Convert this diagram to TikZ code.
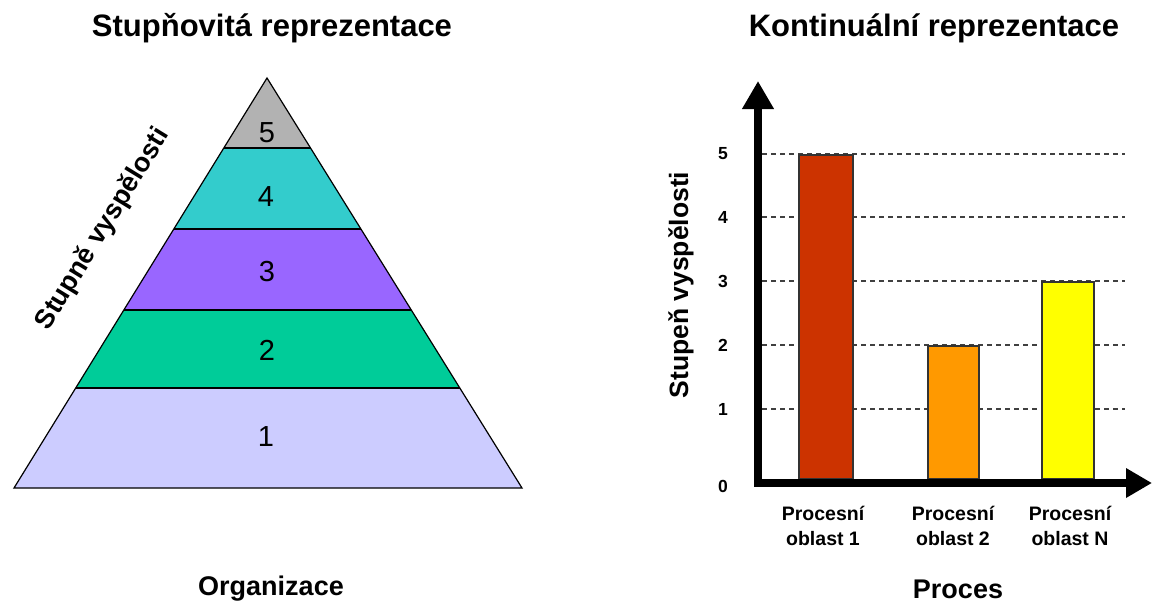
\documentclass[tikz,border=0pt]{standalone}
\usepackage{fontspec}
\setmainfont{Liberation Sans}
\usetikzlibrary{arrows.meta}
\definecolor{lvlfive}{HTML}{B2B2B2}
\definecolor{lvlfour}{HTML}{33CCCC}
\definecolor{lvlthree}{HTML}{9966FF}
\definecolor{lvltwo}{HTML}{00CC99}
\definecolor{lvlone}{HTML}{CCCCFF}
\definecolor{barone}{HTML}{CC3300}
\definecolor{bartwo}{HTML}{FF9900}
\definecolor{barthree}{HTML}{FFFF00}
\definecolor{gridgray}{HTML}{404040}
\begin{document}
\begin{tikzpicture}[x=1pt,y=-1pt,
  band/.style={draw=black,line width=1.2pt,line join=miter},
  lvlnum/.style={font=\fontsize{29}{32}\selectfont,inner sep=0pt},
  title/.style={font=\fontsize{31}{36}\selectfont\bfseries,inner sep=0pt},
  axtitle/.style={font=\fontsize{27}{32}\selectfont\bfseries,inner sep=0pt},
  tick/.style={font=\fontsize{17.5}{20}\selectfont\bfseries,inner sep=0pt},
  catlabel/.style={font=\fontsize{19.5}{25}\selectfont\bfseries,align=center,inner sep=0pt},
  gridline/.style={gridgray,line width=1.8pt,dash pattern=on 5pt off 4pt},
  bar/.style={draw=black!80,line width=1.5pt},
  axis/.style={line width=8pt,line join=miter}
]
\useasboundingbox (0,0) rectangle (1153,603);
% titles
\node[title] (tl) at (272,28) {Stupňovitá reprezentace};
\node[title] (tr) at (934,28) {Kontinuální reprezentace};
\node[axtitle] (org) at (271,589) {Organizace};
\node[axtitle] (proc) at (958,589) {Proces};
% pyramid
\fill[lvlfive] (267,78) -- (310.5,148) -- (223.8,148) -- cycle;
\fill[lvlfour] (223.8,148) -- (310.5,148) -- (360.9,229) -- (173.8,229) -- cycle;
\fill[lvlthree] (173.8,229) -- (360.9,229) -- (411.3,310) -- (123.9,310) -- cycle;
\fill[lvltwo] (123.9,310) -- (411.3,310) -- (459.8,388) -- (75.7,388) -- cycle;
\fill[lvlone] (75.7,388) -- (459.8,388) -- (522,488) -- (14,488) -- cycle;
\draw[band] (267,78) -- (522,488) -- (14,488) -- cycle;
\draw[band] (223.8,148) -- (310.5,148);
\draw[band] (173.8,229) -- (360.9,229);
\draw[band] (123.9,310) -- (411.3,310);
\draw[band] (75.7,388) -- (459.8,388);
\node[lvlnum] (n5) at (267,133) {5};
\node[lvlnum] (n4) at (266,197) {4};
\node[lvlnum] (n3) at (267,272) {3};
\node[lvlnum] (n2) at (267,350) {2};
\node[lvlnum] (n1) at (266,437) {1};
\node[axtitle,rotate=58.5] (pyrlab) at (103,229) {Stupně vyspělosti};
% chart grid
\foreach \yy/\lab in {154/5,217/4,281/3,345/2,409/1}{
  \draw[gridline] (762,\yy) -- (1125,\yy);
  \node[tick] (t\lab) at (723,\yy) {\lab};
}
\node[tick] (t0) at (723,486) {0};
% bars
\draw[bar,fill=barone] (799,155) rectangle (853,479);
\draw[bar,fill=bartwo] (928,346) rectangle (979,479);
\draw[bar,fill=barthree] (1042,282) rectangle (1094,479);
% axes
\draw[axis,{Triangle[width=30pt,length=28pt]}-{Triangle[width=28pt,length=26pt]}] (758,81) -- (758,483) -- (1152,483);
% labels
\node[catlabel] (c1) at (823,526) {Procesní\\oblast 1};
\node[catlabel] (c2) at (953,526) {Procesní\\oblast 2};
\node[catlabel] (c3) at (1070,526) {Procesní\\oblast N};
\node[font=\fontsize{26.5}{30}\selectfont\bfseries,rotate=90,inner sep=0pt] (ylab) at (681,285) {Stupeň vyspělosti};
\end{tikzpicture}
\end{document}
